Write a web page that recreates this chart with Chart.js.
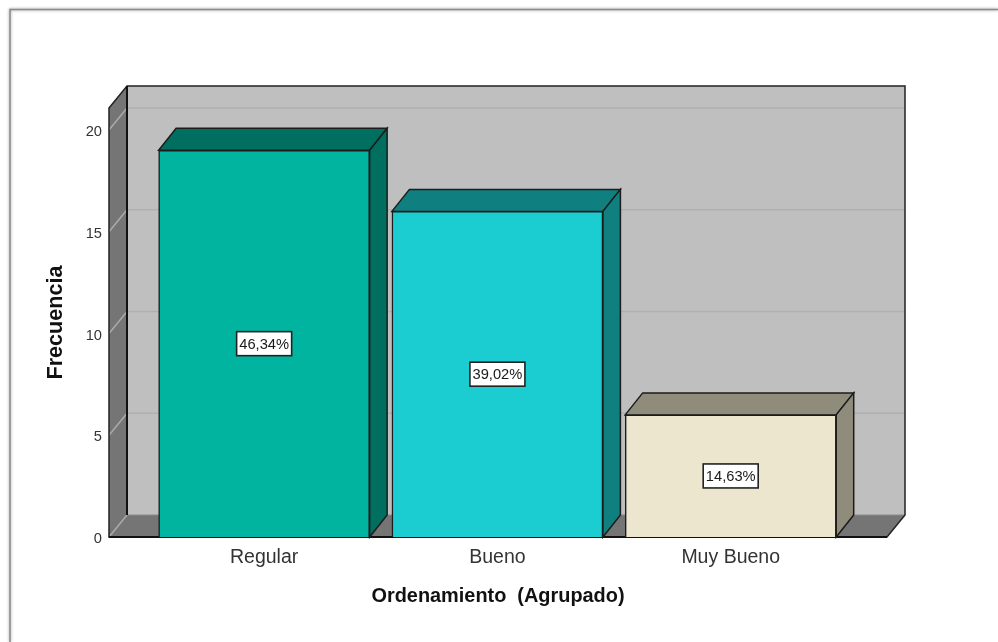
<!DOCTYPE html>
<html><head><meta charset="utf-8">
<style>html,body{margin:0;padding:0;background:#fff}#w{position:relative;width:998px;height:642px}</style>
<script src="https://cdn.jsdelivr.net/npm/chart.js@4/dist/chart.umd.min.js"></script>
</head><body><div id="w"><canvas id="c" width="998" height="642"></canvas></div>
<script>
const categories = ['Regular', 'Bueno', 'Muy Bueno'];
const frequencies = [19, 16, 6];
const percentLabels = ['46,34%', '39,02%', '14,63%'];
const frontColors = ['#00B4A0', '#1BCDD0', '#EDE6CF'];
const sideColors = ['#006F60', '#107F80', '#8F8C7B'];
const yTicks = [0, 5, 10, 15, 20];
const axisTitleX = 'Ordenamiento  (Agrupado)';
const axisTitleY = 'Frecuencia';

const DX = 18, DY = 22, BAR_DX = 17.5, LINE = '#1c1c1c', WALL = '#BFBFBF', SIDE = '#757575';

function poly(ctx, pts, fill, stroke, lw) {
  ctx.beginPath();
  pts.forEach((p, i) => i ? ctx.lineTo(p[0], p[1]) : ctx.moveTo(p[0], p[1]));
  ctx.closePath();
  if (fill) { ctx.fillStyle = fill; ctx.fill(); }
  if (stroke) { ctx.strokeStyle = stroke; ctx.lineWidth = lw || 1.5; ctx.stroke(); }
}
function seg(ctx, a, b, color, lw) {
  ctx.beginPath(); ctx.moveTo(a[0], a[1]); ctx.lineTo(b[0], b[1]);
  ctx.strokeStyle = color; ctx.lineWidth = lw; ctx.stroke();
}

const scene = {
  id: 'scene',
  afterLayout(chart) {
    const s = chart.scales.y;
    if (!s._shifted) {
      const orig = s.drawLabels;
      s.drawLabels = function (a) { const c = this.ctx; c.save(); c.translate(0, 2); orig.call(this, a); c.restore(); };
      s._shifted = true;
    }
  },
  beforeDraw(chart) {
    const ctx = chart.ctx;
    ctx.save();
    ctx.shadowColor = 'rgba(0,0,0,0.45)';
    ctx.shadowBlur = 3;
    ctx.lineCap = 'butt';
    ctx.beginPath(); ctx.moveTo(10, 642); ctx.lineTo(10, 9.5); ctx.lineTo(998, 9.5);
    ctx.strokeStyle = '#8a8a8a'; ctx.lineWidth = 1.5; ctx.stroke();
    ctx.restore();
  },
  beforeDatasetsDraw(chart) {
    const ctx = chart.ctx, a = chart.chartArea, y = chart.scales.y;
    const L = a.left, R = a.right, T = a.top, B = a.bottom;
    ctx.save();
    // back wall, left wall, floor
    poly(ctx, [[L + DX, T - DY], [R + DX, T - DY], [R + DX, B - DY], [L + DX, B - DY]], WALL);
    poly(ctx, [[L, T], [L + DX, T - DY], [L + DX, B - DY], [L, B]], SIDE);
    poly(ctx, [[L, B], [L + DX, B - DY], [R + DX, B - DY], [R, B]], SIDE);
    // grid on the walls
    yTicks.forEach(v => {
      const p = y.getPixelForValue(v);
      if (v > 0) seg(ctx, [L + DX, p - DY], [R + DX, p - DY], '#B0B0B0', 1.5);
      seg(ctx, [L, p], [L + DX, p - DY], '#ABABAB', 1.5);
    });
    // edges
    seg(ctx, [L + DX, B - DY], [R + DX, B - DY], '#8a8a8a', 1);
    poly(ctx, [[L, T], [L + DX, T - DY], [R + DX, T - DY], [R + DX, B - DY], [R, B], [L, B]], null, '#222', 1.5);
    seg(ctx, [L + DX, T - DY], [L + DX, B - DY], '#111', 2);
    seg(ctx, [L, B], [R, B], '#111', 2);
    // side and top faces of the bars
    chart.getDatasetMeta(0).data.forEach((bar, i) => {
      const p = bar.getProps(['x', 'y', 'base', 'width'], true);
      const l = p.x - p.width / 2, r = p.x + p.width / 2;
      poly(ctx, [[l, p.y], [l + BAR_DX, p.y - DY], [r + BAR_DX, p.y - DY], [r, p.y]], sideColors[i], LINE, 1.5);
      poly(ctx, [[r, p.y], [r + BAR_DX, p.y - DY], [r + BAR_DX, p.base - DY], [r, p.base]], sideColors[i], LINE, 1.5);
    });
    ctx.restore();
  },
  afterDatasetsDraw(chart) {
    const ctx = chart.ctx;
    ctx.save();
    ctx.font = '14.7px "Liberation Sans"';
    ctx.textAlign = 'center'; ctx.textBaseline = 'middle';
    chart.getDatasetMeta(0).data.forEach((bar, i) => {
      const p = bar.getProps(['x', 'y', 'base'], true);
      const my = (p.y + p.base) / 2, w = 55, h = 24;
      ctx.fillStyle = '#fff'; ctx.fillRect(p.x - w / 2, my - h / 2, w, h);
      ctx.strokeStyle = '#222'; ctx.lineWidth = 1.6; ctx.strokeRect(p.x - w / 2, my - h / 2, w, h);
      ctx.fillStyle = '#1a1a1a'; ctx.fillText(percentLabels[i], p.x, my + 1);
    });
    ctx.restore();
  }
};

new Chart(document.getElementById('c'), {
  type: 'bar',
  data: {
    labels: categories,
    datasets: [{
      data: frequencies.map((v, i) => ({ x: i, y: v })),
      backgroundColor: frontColors,
      borderColor: LINE,
      borderWidth: 1.5,
      barThickness: 211
    }]
  },
  options: {
    responsive: false,
    animation: false,
    layout: { padding: { left: 43, top: 108, right: 111, bottom: 30 } },
    plugins: { legend: { display: false }, tooltip: { enabled: false }, title: { display: false } },
    scales: {
      x: {
        type: 'linear', min: -0.665, max: 2.67, offset: false,
        grid: { display: false, offset: false, drawTicks: false, tickLength: 0 }, border: { display: false },
        afterFit(s) { s.height = 75; },
        ticks: {
          stepSize: 1, includeBounds: false, padding: 9, autoSkip: false, maxRotation: 0,
          color: '#333', font: { family: '"Liberation Sans"', size: 19.5 },
          callback: v => categories[v]
        },
        title: { display: true, text: axisTitleX, color: '#111', padding: { top: 0, bottom: 4 },
          font: { family: '"Liberation Sans"', size: 19.9, weight: 'bold' } }
      },
      y: {
        min: 0, max: 21.08,
        grid: { display: false, drawTicks: false, tickLength: 0 }, border: { display: false },
        afterFit(s) { s.width = 66; },
        afterBuildTicks(s) { s.ticks = yTicks.map(v => ({ value: v })); },
        ticks: { padding: 7, color: '#333', font: { family: '"Liberation Sans"', size: 14.7 } },
        title: { display: true, text: axisTitleY, color: '#111', padding: { top: 0, bottom: 0 },
          font: { family: '"Liberation Sans"', size: 21.6, weight: 'bold' } }
      }
    }
  },
  plugins: [scene]
});
</script></body></html>
